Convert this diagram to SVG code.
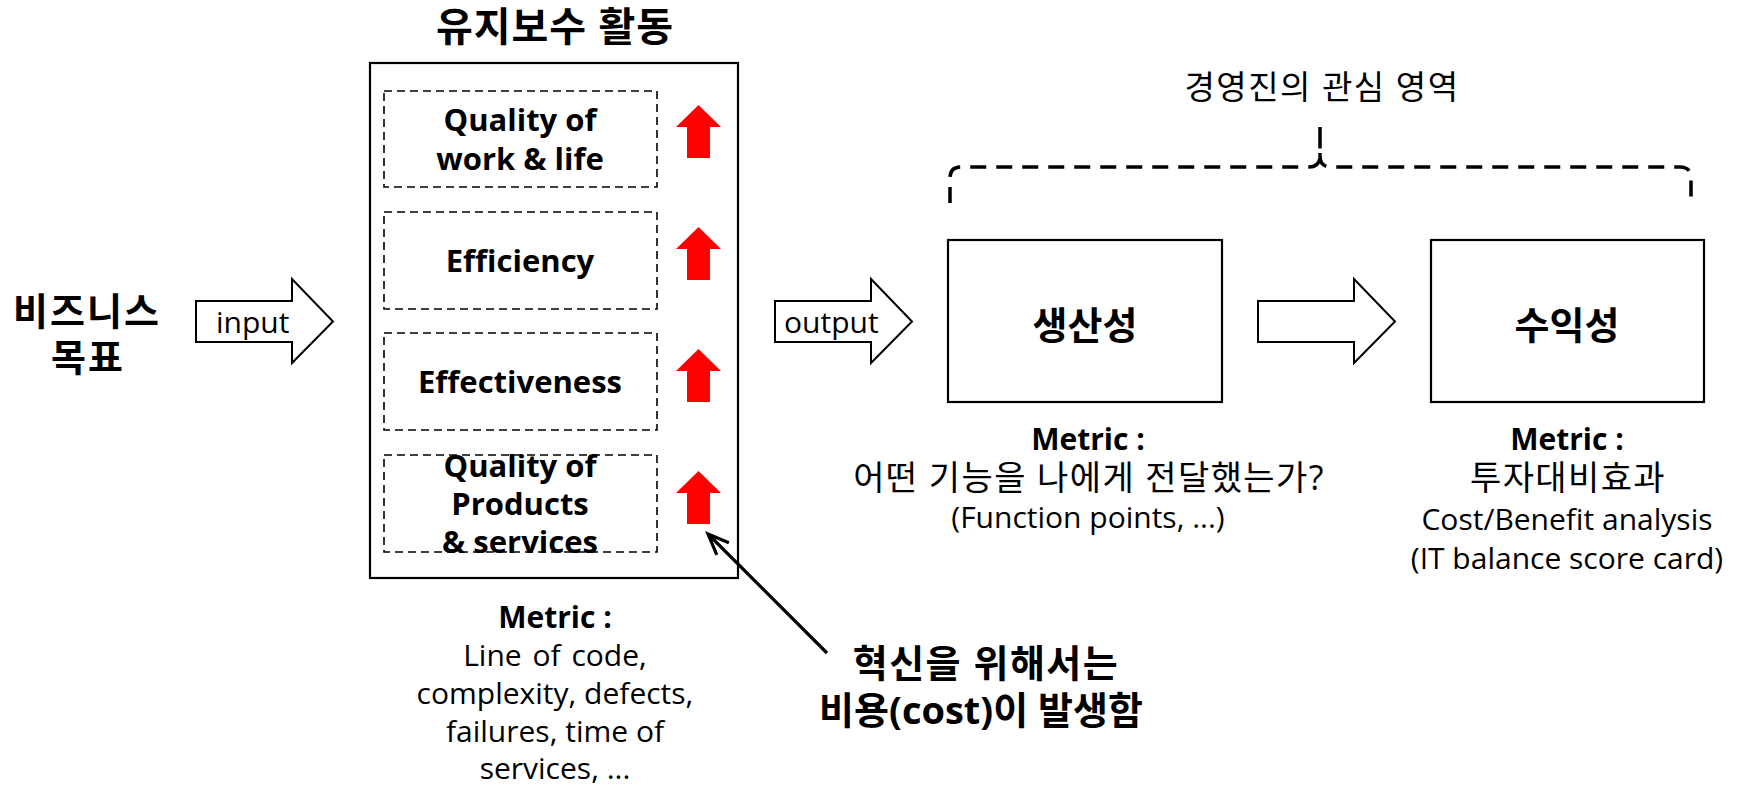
<svg xmlns="http://www.w3.org/2000/svg" width="1742" height="787" viewBox="0 0 1742 787">
  <style>
    text { font-family: 'Open Sans', 'Noto Sans CJK KR', sans-serif; fill: #000; }
    .b { font-weight: bold; }
    .mid { text-anchor: middle; }
    .frame { fill: #fff; stroke: #000; stroke-width: 2.2; }
    .dash { fill: none; stroke: #000; stroke-width: 1.6; stroke-dasharray: 8 5; }
    .block { fill: #fff; stroke: #000; stroke-width: 2; stroke-linejoin: miter; }
    .up { fill: #ff0000; }
    .t30 { font-size: 30px; }
    .t31 { font-size: 31px; }
    .t38 { font-size: 38px; }
    .kr { font-size: 34px; letter-spacing: 1.4px; }
  </style>
  <defs>
    <!-- hollow block arrow, origin at top-left of the shaft -->
    <path id="blockArrow" d="M0,0 H96 V-22 L137,20.5 L96,62 V41 H0 Z"/>
    <!-- solid red up arrow, origin at the tip -->
    <path id="upArrow" d="M0,0 L22.5,22 H11.5 V53 H-11.5 V22 H-22.5 Z"/>
    <marker id="openHead" markerUnits="userSpaceOnUse" markerWidth="30" markerHeight="30" refX="0" refY="0" orient="auto" overflow="visible">
      <path d="M-21,-8.5 L0,0 L-21,8.5" fill="none" stroke="#000" stroke-width="3.2" stroke-linejoin="miter"/>
    </marker>
  </defs>

  <rect width="1742" height="787" fill="#fff"/>

  <!-- left: business goal -->
  <g id="node-goal">
    <text class="b mid" x="87" y="325" font-size="38" letter-spacing="2">비즈니스</text>
    <text class="b mid" x="88" y="371" font-size="38" letter-spacing="2">목표</text>
  </g>

  <!-- maintenance activities -->
  <g id="node-maintenance">
    <text class="b mid" x="555" y="41" font-size="40" letter-spacing="1">유지보수 활동</text>
    <rect class="frame" x="370" y="63" width="368" height="515"/>
    <rect class="dash" x="384" y="91" width="273" height="96"/>
    <rect class="dash" x="384" y="212" width="273" height="97"/>
    <rect class="dash" x="384" y="333" width="273" height="97"/>
    <rect class="dash" x="384" y="455" width="273" height="97"/>
    <text class="b mid t31" x="520" y="131">Quality of</text>
    <text class="b mid t31" x="520" y="170">work &amp; life</text>
    <text class="b mid t31" x="520" y="272">Efficiency</text>
    <text class="b mid t31" x="520" y="393">Effectiveness</text>
    <text class="b mid t31" x="520" y="477">Quality of</text>
    <text class="b mid t31" x="520" y="515">Products</text>
    <text class="b mid t31" x="520" y="553">&amp; services</text>
    <use href="#upArrow" class="up" x="698.5" y="105"/>
    <use href="#upArrow" class="up" x="698.5" y="227"/>
    <use href="#upArrow" class="up" x="698.5" y="349"/>
    <use href="#upArrow" class="up" x="698.5" y="471"/>
  </g>
  <g id="label-maintenance-metric">
    <text class="b mid t30" x="555" y="628">Metric :</text>
    <text class="mid t30" x="555" y="666" word-spacing="3">Line of code,</text>
    <text class="mid t30" x="555" y="704">complexity, defects,</text>
    <text class="mid t30" x="555" y="742">failures, time of</text>
    <text class="mid t30" x="555" y="779">services, ...</text>
  </g>

  <!-- productivity -->
  <g id="node-productivity">
    <rect class="frame" x="948" y="240" width="274" height="162"/>
    <text class="b mid t38" x="1085" y="339">생산성</text>
    <text class="b mid t30" x="1088" y="450">Metric :</text>
    <text class="mid kr" x="1089" y="490">어떤 기능을 나에게 전달했는가?</text>
    <text class="mid t30" x="1088" y="528">(Function points, ...)</text>
  </g>

  <!-- profitability -->
  <g id="node-profitability">
    <rect class="frame" x="1431" y="240" width="273" height="162"/>
    <text class="b mid t38" x="1567" y="339">수익성</text>
    <text class="b mid t30" x="1567" y="450">Metric :</text>
    <text class="mid kr" x="1568" y="490">투자대비효과</text>
    <text class="mid t30" x="1567" y="530">Cost/Benefit analysis</text>
    <text class="mid t30" x="1567" y="569">(IT balance score card)</text>
  </g>

  <!-- management concern bracket -->
  <g id="node-management">
    <text class="mid" x="1322" y="99" font-size="33" letter-spacing="1.5">경영진의 관심 영역</text>
    <path d="M950,203 V178 Q950,167 961,167 H1309 Q1320,167 1320,156 V127 M1320,127 V156 Q1320,167 1331,167 H1680 Q1691,167 1691,178 V203" fill="none" stroke="#000" stroke-width="3.5" stroke-dasharray="16 10"/>
  </g>

  <!-- innovation cost note -->
  <g id="node-note">
    <text class="b mid t38" x="986" y="677" letter-spacing="1.5">혁신을 위해서는</text>
    <text class="b mid t38" x="981" y="724">비용(cost)이 발생함</text>
  </g>

  <!-- connectors -->
  <g id="connectors">
    <use href="#blockArrow" class="block" x="196" y="301"/>
    <use href="#blockArrow" class="block" x="775" y="301"/>
    <use href="#blockArrow" class="block" x="1258" y="301"/>
    <text x="216" y="333" font-size="30">input</text>
    <text x="784" y="333" font-size="30">output</text>
    <line x1="827" y1="653" x2="708" y2="534" stroke="#000" stroke-width="3.2" marker-end="url(#openHead)"/>
  </g>
</svg>
